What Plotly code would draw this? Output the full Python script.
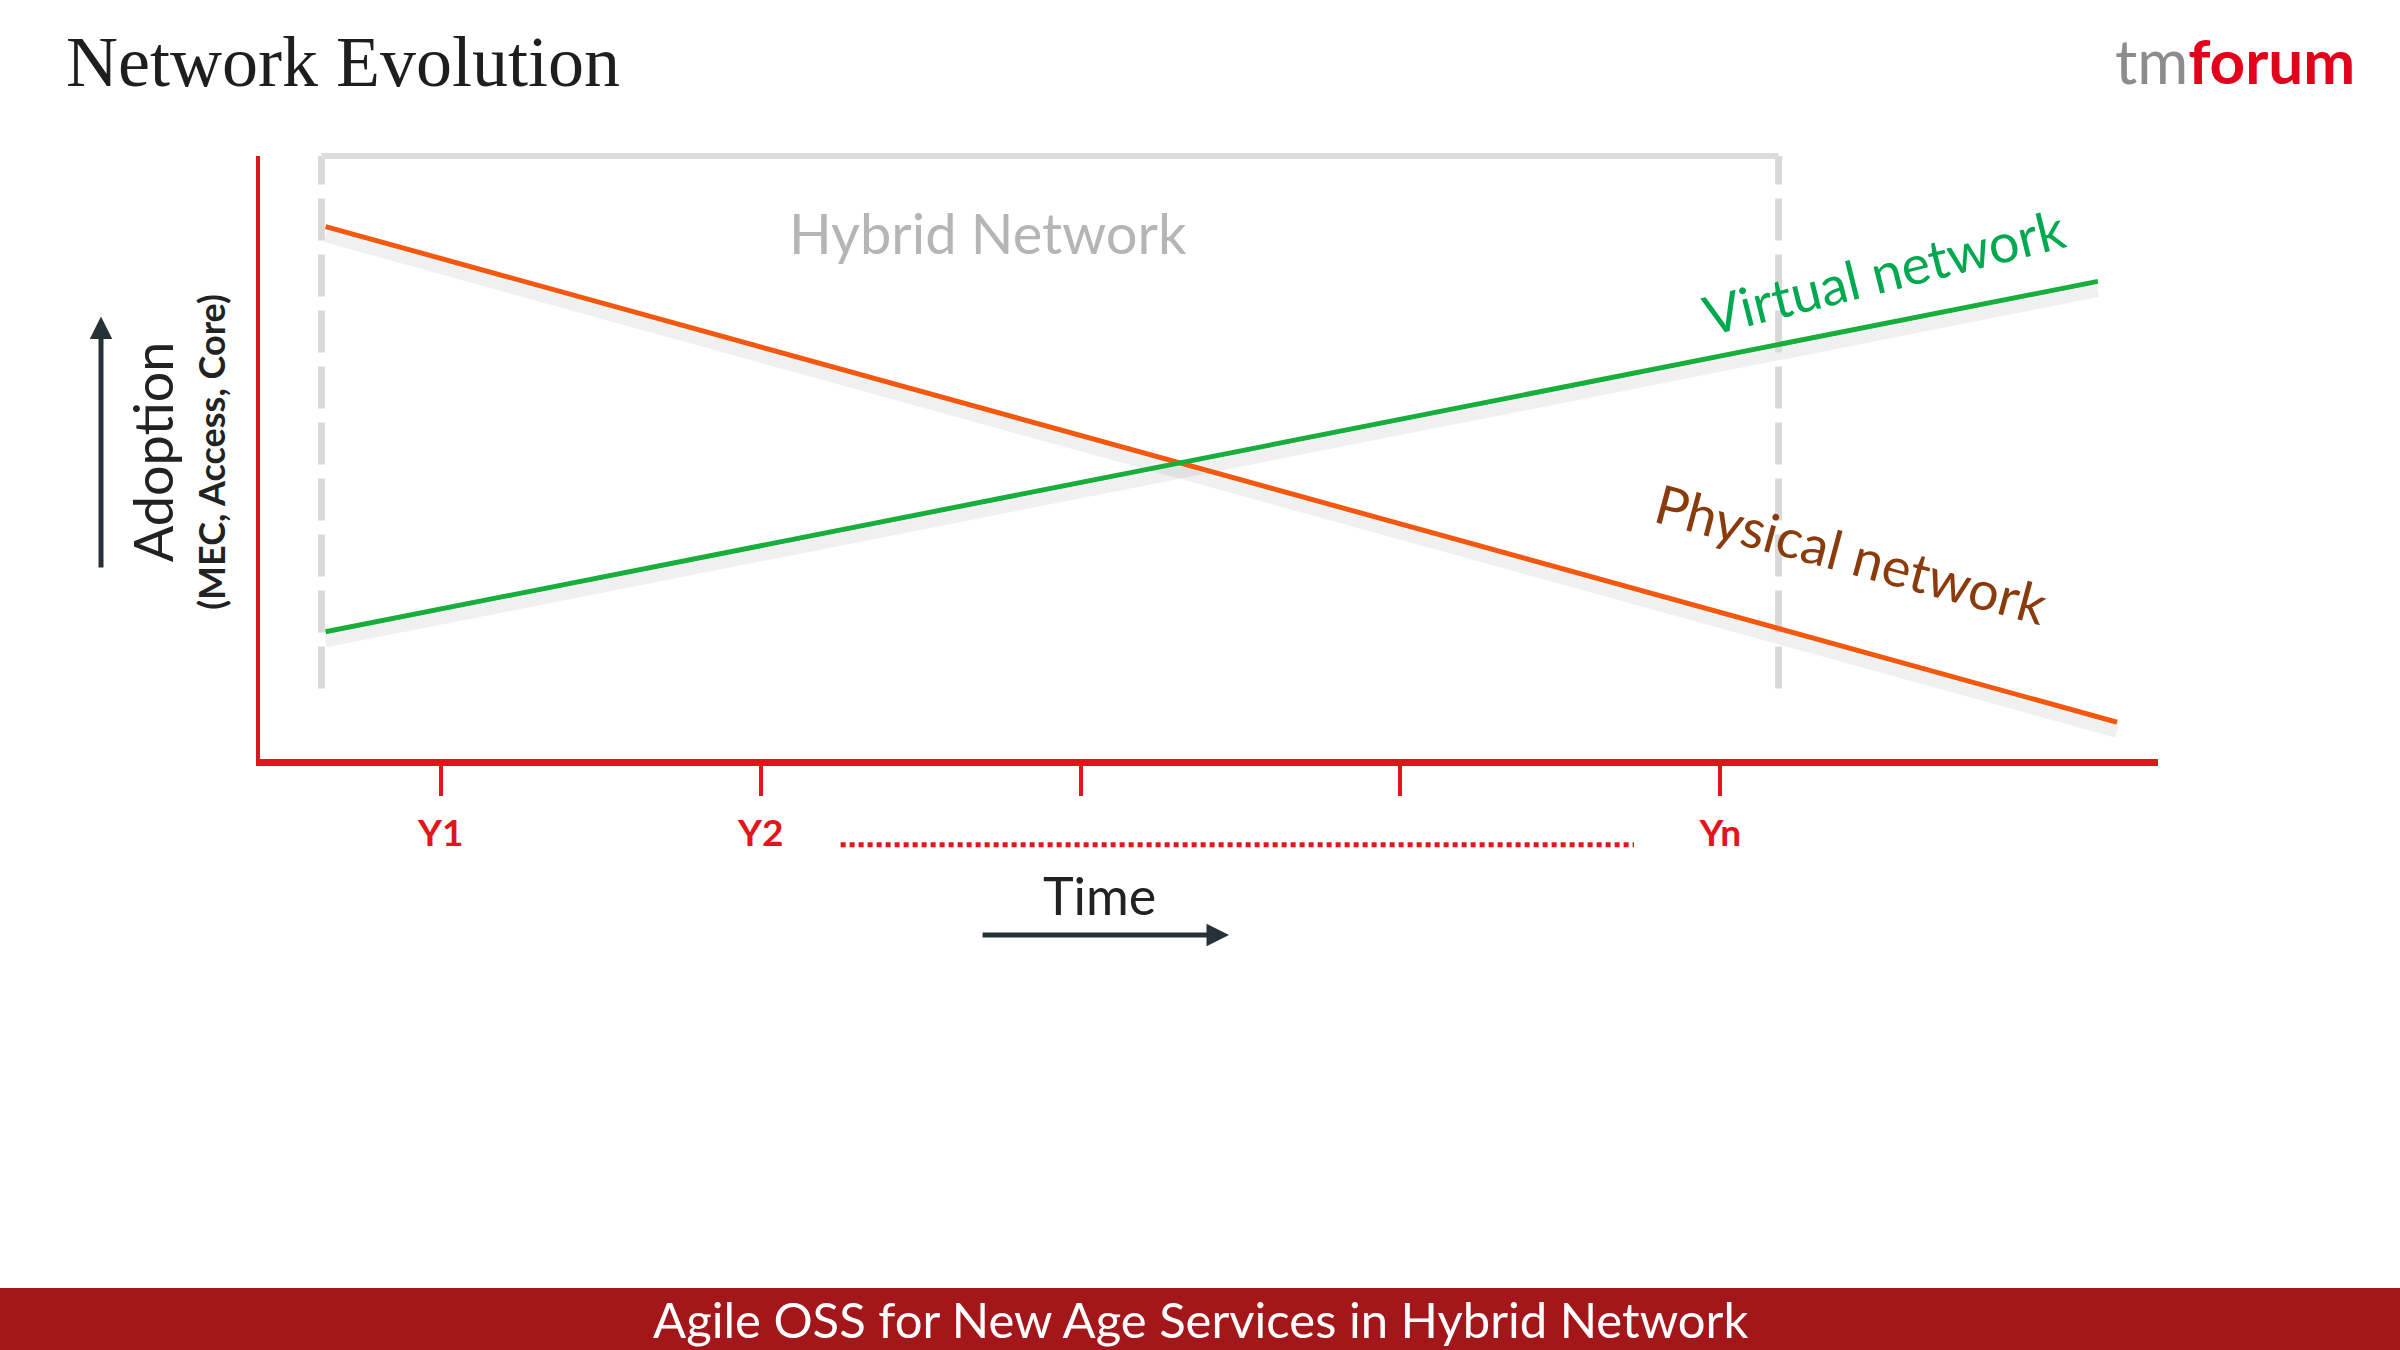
import plotly.graph_objects as go

# --- data (time in "year slots", adoption in %) ---
time_ticks = [1, 2, 3, 4, 5]
tick_labels = ["Y1", "Y2", "", "", "Yn"]

physical_x = [0.64, 6.24]
physical_y = [88.3, 6.1]

virtual_x = [0.64, 6.18]
virtual_y = [21.1, 79.2]

# hybrid window (bracket)
hybrid_x = [0.627, 5.182]
hybrid_y = [11.7, 100]

# dotted "..." between Y2 and Yn
gap_x = [2.25, 4.73]
gap_y = [-14.2, -14.2]

W, H = 2400, 1350
RED = "#e3141b"
FONT = "Lato"

# main axes (the red L) and an invisible full-page twin with the same scale,
# so the hints outside the axes (Adoption, Time, arrows) can use data units
x_dom, x_rng = [260 / W, 2158 / W], [0.435, 6.368]
y_dom, y_rng = [1 - 759 / H, 1 - 156 / H], [0, 100]


def full_range(dom, rng):
    k = (rng[1] - rng[0]) / (dom[1] - dom[0])
    return [rng[0] - dom[0] * k, rng[0] + (1 - dom[0]) * k]


fig = go.Figure()

# empty trace so the red x/y axes get drawn
fig.add_trace(go.Scatter(x=[], y=[], hoverinfo="skip"))

# soft shadows under the two lines
for xs, ys in [(physical_x, physical_y), (virtual_x, virtual_y)]:
    fig.add_trace(go.Scatter(
        x=xs, y=[v - 1.6 for v in ys], mode="lines",
        line=dict(color="rgba(0,0,0,0.06)", width=12),
        hoverinfo="skip", xaxis="x2", yaxis="y2",
    ))

# hybrid bracket: dashed sides + solid top
for hx in hybrid_x:
    fig.add_trace(go.Scatter(
        x=[hx, hx], y=hybrid_y, mode="lines",
        line=dict(color="#d9d9d9", width=7, dash="42px,14px"),
        hoverinfo="skip", xaxis="x2", yaxis="y2",
    ))
fig.add_trace(go.Scatter(
    x=hybrid_x, y=[hybrid_y[1], hybrid_y[1]], mode="lines",
    line=dict(color="#dcdcdc", width=6),
    hoverinfo="skip", xaxis="x2", yaxis="y2",
))

fig.add_trace(go.Scatter(
    x=physical_x, y=physical_y, mode="lines", name="Physical network",
    line=dict(color="#f4580f", width=5), xaxis="x2", yaxis="y2",
))
fig.add_trace(go.Scatter(
    x=virtual_x, y=virtual_y, mode="lines", name="Virtual network",
    line=dict(color="#17ae3b", width=5), xaxis="x2", yaxis="y2",
))

fig.add_trace(go.Scatter(
    x=gap_x, y=gap_y, mode="lines",
    line=dict(color=RED, width=5, dash="5px,4px"),
    hoverinfo="skip", xaxis="x2", yaxis="y2",
))

annots = [
    dict(x=2.71, y=87.3, text="Hybrid Network", font=dict(size=56, color="#b5b5b5")),
    dict(x=5.51, y=80.9, text="Virtual network", textangle=-14,
         font=dict(size=54, color="#00a84f")),
    dict(x=5.41, y=34.0, text="Physical network", textangle=15,
         font=dict(size=54, color="#8a3b0c")),
    dict(x=0.10, y=51.0, text="Adoption", textangle=-90,
         font=dict(size=54, color="#222222")),
    dict(x=0.283, y=51.0, text="<b>(MEC, Access, Core)</b>", textangle=-90,
         font=dict(size=36, color="#222222")),
    dict(x=3.06, y=-22.6, text="Time", font=dict(size=52, color="#222222")),
]
for a in annots:
    fig.add_annotation(xref="x2", yref="y2", showarrow=False, **a)

# arrows for the axis hints
fig.add_annotation(xref="x2", yref="y2", axref="x2", ayref="y2",
                   x=-0.062, y=73.4, ax=-0.062, ay=31.5, text="",
                   showarrow=True, arrowhead=2, arrowsize=0.9,
                   arrowwidth=5, arrowcolor="#263238")
fig.add_annotation(xref="x2", yref="y2", axref="x2", ayref="y2",
                   x=3.464, y=-29.2, ax=2.689, ay=-29.2, text="",
                   showarrow=True, arrowhead=2, arrowsize=0.9,
                   arrowwidth=5, arrowcolor="#263238")

# slide chrome: title, logo, footer banner
fig.add_annotation(xref="paper", yref="paper", x=64 / W, y=1 - 62 / H,
                   xanchor="left", yanchor="middle", showarrow=False,
                   text="Network Evolution",
                   font=dict(family="Liberation Serif", size=72, color="#1e1e1e"))
fig.add_annotation(xref="paper", yref="paper", x=0.982, y=1 - 60 / H,
                   xanchor="right", yanchor="middle", showarrow=False,
                   text="<span style='color:#8c8c8c'>tm</span>"
                        "<b><span style='color:#e2001a'>forum</span></b>",
                   font=dict(family=FONT, size=62))
fig.add_shape(type="rect", xref="paper", yref="paper", x0=0, x1=1,
              y0=0, y1=1 - 1288 / H, fillcolor="#a3161a", line_width=0,
              layer="below")
fig.add_annotation(xref="paper", yref="paper", x=0.5, y=(1 - 1288 / H) / 2,
                   xanchor="center", yanchor="middle", showarrow=False,
                   text="Agile OSS for New Age Services in Hybrid Network",
                   font=dict(family=FONT, size=49, color="white"))

hidden = dict(visible=False, showgrid=False, zeroline=False, fixedrange=True)

fig.update_layout(
    width=W, height=H,
    margin=dict(l=0, r=0, t=0, b=0),
    paper_bgcolor="white", plot_bgcolor="rgba(0,0,0,0)",
    showlegend=False,
    font=dict(family=FONT),
    xaxis=dict(
        domain=x_dom, range=x_rng,
        showgrid=False, zeroline=False,
        showline=True, linecolor=RED, linewidth=7,
        ticks="outside", ticklen=30, tickwidth=4, tickcolor=RED,
        tickvals=time_ticks, ticktext=tick_labels,
        tickfont=dict(size=37, color=RED, family=FONT, weight="bold"),
        ticklabelstandoff=6,
    ),
    yaxis=dict(
        domain=y_dom, range=y_rng,
        showgrid=False, zeroline=False, showticklabels=False,
        showline=True, linecolor="#d9161c", linewidth=4,
    ),
    xaxis2=dict(domain=[0, 1], range=full_range(x_dom, x_rng), anchor="y2", **hidden),
    yaxis2=dict(domain=[0, 1], range=full_range(y_dom, y_rng), anchor="x2", **hidden),
)

fig.write_html("out.html", config={"displayModeBar": False},
               post_script="document.body.style.margin='0';")
